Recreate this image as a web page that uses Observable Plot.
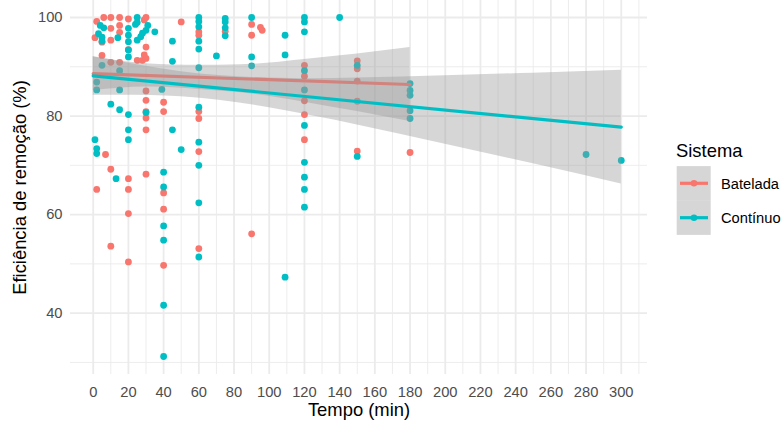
<!DOCTYPE html>
<html><head><meta charset="utf-8">
<script src="https://cdn.jsdelivr.net/npm/d3@7"></script>
<script src="https://cdn.jsdelivr.net/npm/@observablehq/plot@0.6"></script>
<style>
body{margin:0;background:#fff;font-family:"Liberation Sans",Arial,sans-serif;}
#wrap{position:relative;width:784px;height:423px;overflow:hidden;}
#legend{position:absolute;left:660px;top:130px;}
</style></head><body><div id="wrap"></div>
<script>
// ---- data ----
const series = ["Batelada", "Contínuo"];
const seriesColors = ["#F8766D", "#00BFC4"];

const tempoBatelada = [2,1,2, 6,5,5,7, 10,10,10,10,10,10, 15,15,15,15, 20,20,20,20,20,20,
  25,29,30,30,29,28,30,30,30,30,30,30,30, 40,40,40,40,40, 50, 60,60,60,60,60,60, 75,
  90,90,90, 95,96, 120,120,120,120,120, 150,150,150,150,150, 180];
const eficBatelada = [99.2,95.9,65.1, 100,95,92.3,72.2, 100,97.8,95.4,90.9,69.2,53.6, 100,98.4,97,90.9, 99.7,93.5,67.3,65.1,60.2,50.4,
  91.3,99.5,100,94,92.4,91.3,91.7,85.1,83.2,80.9,79.6,77.2,68.2, 82.8,80.9,64.4,61.1,49.7, 99.1, 97.1,96.4,80.9,79.5,72.8,53.1, 97.2,
  98.6,96.4,56.1, 98,97.4, 90.3,88.1,83.1,80.3,75.2, 91.2,89.6,87.1,83,72.9, 72.6];

const tempoContinuo = [4,6,3,5,5,2,2,1,2,2,5, 10,14,13, 15,15,15, 20,20,20,20,20,20,20,20,
  25,25,24,25,27,28,30,31,30, 35,39, 40,40,40,40,40,40, 45,45,45,50,
  60,60,60,60,60,60,60,60,60,60,60, 70, 75,75,75,75, 90,90,90, 109,109,109,
  120,120,120,120,120,120,120,120,120,120, 140, 150,150, 180,180,180,180,180, 280,300];
const eficContinuo = [98.4,97.9,96.7,96,95.2,86.9,85.3,75.2,73.4,72.4,90.3, 82.4,95.9,67.3, 81.3,89.2,85.3, 97.8,96.4,95.1,93.4,92,80.3,77.2,75.2,
  100,99,98.6,95.4,96.1,96.8,97.4,98.4,80.7, 97.1,85.4, 68.6,65.6,57.7,54.8,41.6,31.2, 95.2,91.1,77.2,73.2,
  100,99.2,98.1,95.2,93.6,89.8,81.8,74.7,70,62.4,51.4, 92.2, 99.8,99.1,97.9,96.3, 100,92,90.2, 96.4,92.4,47.3,
  100,99.1,97.1,89.2,85.3,78.1,70.6,67.6,65.1,61.5, 100, 90.3,71.8, 86.6,85.2,84.2,81.1,79.5, 72.2,71];

// linear fits and their confidence bands
const fitTempoBatelada = [0, 180];
const fitBatelada = [88.6, 86.4];
const fitTempoContinuo = [0, 300];
const fitContinuo = [88.15, 77.75];
const bandTempoBatelada = [0, 30, 60, 90, 120, 150, 180];
const bandLowBatelada = [85.2, 85.9, 85.4, 84.5, 82.8, 80.9, 78.9];
const bandHighBatelada = [92.0, 90.6, 90.3, 90.5, 91.5, 92.6, 93.9];
const bandTempoContinuo = [0, 50, 100, 150, 200, 250, 300];
const bandLowContinuo = [84.2, 83.9, 81.7, 78.2, 74.3, 70.3, 66.2];
const bandHighContinuo = [92.1, 89.0, 87.7, 87.7, 88.2, 88.7, 89.3];

const xTicks = [0,20,40,60,80,100,120,140,160,180,200,220,240,260,280,300];
const xMinor = [10,30,50,70,90,110,130,150,170,190,210,230,250,270,290,310];
const yTicks = [40,60,80,100];
const yMinor = [30,50,70,90];
const xTitle = "Tempo (min)";
const yTitle = "Eficiência de remoção (%)";
const legendTitle = "Sistema";

// ---- tables ----
const rows = [
  ...tempoBatelada.map((t, i) => ({tempo: t, efic: eficBatelada[i], sistema: series[0]})),
  ...tempoContinuo.map((t, i) => ({tempo: t, efic: eficContinuo[i], sistema: series[1]}))
];
const fitRows = [
  fitTempoBatelada.map((t, i) => ({tempo: t, efic: fitBatelada[i], sistema: series[0]})),
  fitTempoContinuo.map((t, i) => ({tempo: t, efic: fitContinuo[i], sistema: series[1]}))
];
const bandRows = [
  bandTempoBatelada.map((t, i) => ({tempo: t, lo: bandLowBatelada[i], hi: bandHighBatelada[i]})),
  bandTempoContinuo.map((t, i) => ({tempo: t, lo: bandLowContinuo[i], hi: bandHighContinuo[i]}))
];

const font = "'Liberation Sans', Arial, sans-serif";
const smoothMarks = [];
series.forEach((s, i) => {
  smoothMarks.push(Plot.areaY(bandRows[i], {x: "tempo", y1: "lo", y2: "hi", fill: "#999999", fillOpacity: 0.4, curve: "natural"}));
  smoothMarks.push(Plot.line(fitRows[i], {x: "tempo", y: "efic", stroke: "sistema", strokeWidth: 3.2}));
});

const chart = Plot.plot({
  width: 784, height: 423,
  marginLeft: 70, marginRight: 137, marginTop: 0, marginBottom: 49,
  style: {fontFamily: font, fontSize: "14.7px", color: "#4d4d4d", background: "#fff", overflow: "visible"},
  x: {domain: [-12.9, 314.9]},
  y: {domain: [27.55, 103.45]},
  color: {domain: series, range: seriesColors},
  marks: [
    Plot.gridX(xMinor, {stroke: "#ebebeb", strokeOpacity: 1, strokeWidth: 0.9}),
    Plot.gridY(yMinor, {stroke: "#ebebeb", strokeOpacity: 1, strokeWidth: 0.9}),
    Plot.gridX(xTicks, {stroke: "#ebebeb", strokeOpacity: 1, strokeWidth: 1.8}),
    Plot.gridY(yTicks, {stroke: "#ebebeb", strokeOpacity: 1, strokeWidth: 1.8}),
    Plot.axisX(xTicks, {tickSize: 0, tickPadding: 12, label: null, fill: "#4d4d4d"}),
    Plot.axisY(yTicks, {tickSize: 0, tickPadding: 8, label: null, fill: "#4d4d4d"}),
    Plot.dot(rows, {x: "tempo", y: "efic", fill: "sistema", r: 3.4, stroke: "none"}),
    ...smoothMarks,
    Plot.text([xTitle], {text: d => d, frameAnchor: "bottom", dy: 36, fontSize: 18.4, fill: "#000", lineAnchor: "middle", textAnchor: "middle"}),
    Plot.text([yTitle], {text: d => d, frameAnchor: "left", dx: -50, rotate: -90, fontSize: 18.4, fill: "#000", lineAnchor: "middle", textAnchor: "middle"})
  ]
});
const wrap = document.getElementById("wrap");
wrap.appendChild(chart);

// ---- legend ----
const lg = d3.create("svg").attr("id", "legend").attr("width", 124).attr("height", 120)
  .style("font-family", font);
lg.append("text").attr("x", 16).attr("y", 26.7).attr("font-size", 18.4).attr("fill", "#000").text(legendTitle);
series.forEach((s, i) => {
  const cy = 53.3 + i * 34.4;
  lg.append("rect").attr("x", 16.7).attr("y", cy - 17.2).attr("width", 34).attr("height", 34.4)
    .attr("fill", "#999999").attr("fill-opacity", 0.4);
  lg.append("line").attr("x1", 20).attr("x2", 48).attr("y1", cy).attr("y2", cy)
    .attr("stroke", seriesColors[i]).attr("stroke-width", 3.2);
  lg.append("circle").attr("cx", 34).attr("cy", cy).attr("r", 3.3).attr("fill", seriesColors[i]);
  lg.append("text").attr("x", 61).attr("y", cy).attr("dy", "0.36em").attr("font-size", 14.7)
    .attr("fill", "#000").text(s);
});
wrap.appendChild(lg.node());
</script>
</body></html>
